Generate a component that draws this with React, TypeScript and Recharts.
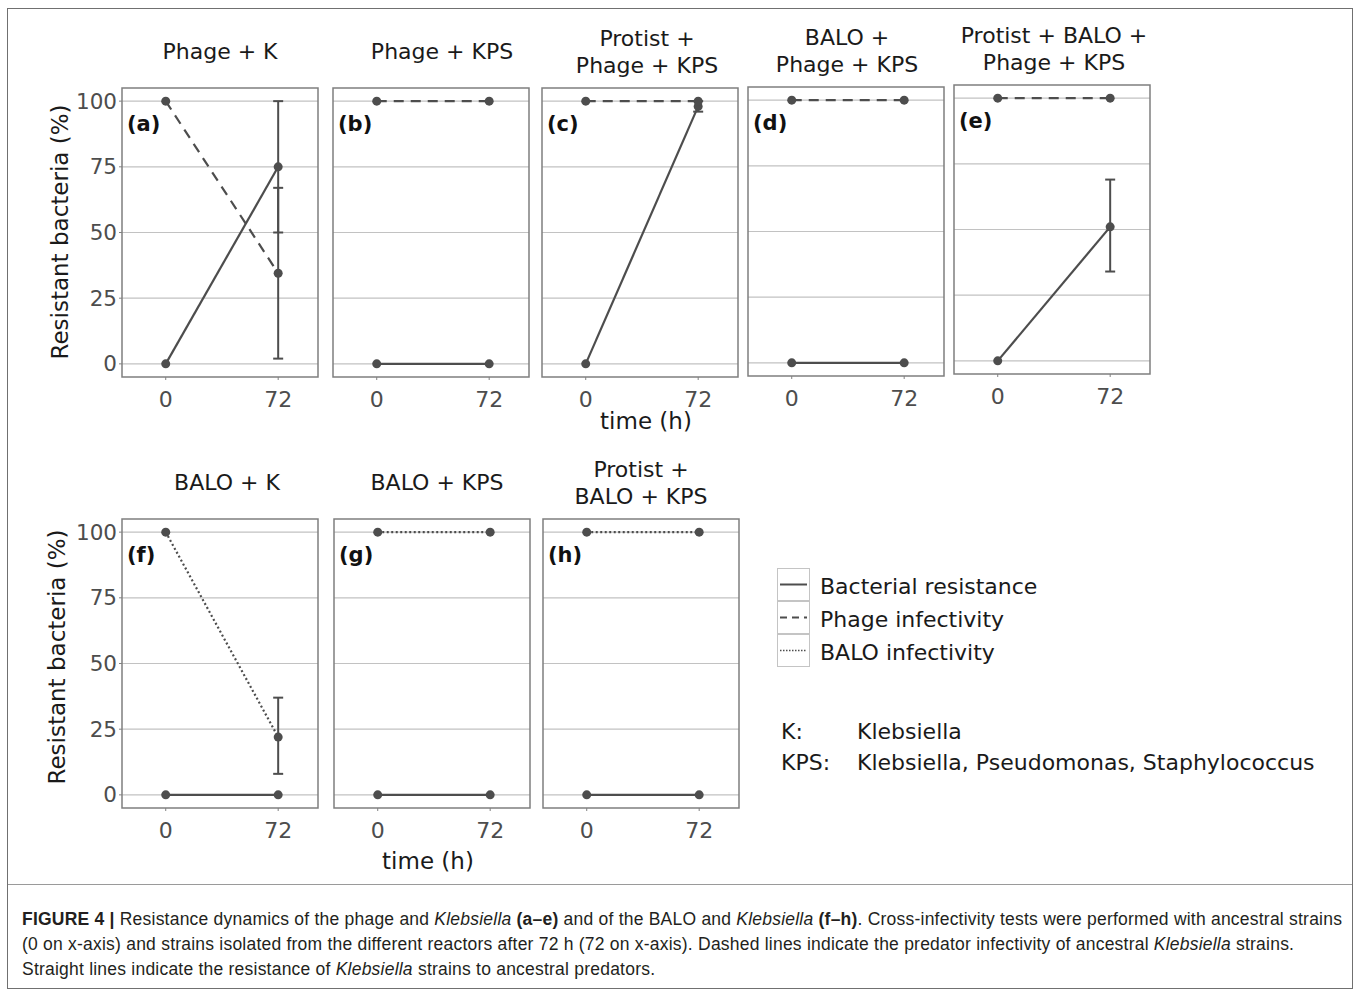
import React from 'react';
import { LineChart, Line, XAxis, YAxis, CartesianGrid, ErrorBar, ReferenceArea } from 'recharts';

// time points (h) and axis ticks
const timePoints = [0, 72];
const xTicks = [0, 72];
const yTicks = [0, 25, 50, 75, 100];

const panelLetters = ['a', 'b', 'c', 'd', 'e', 'f', 'g', 'h'];
const panelTitles = [
  ['Phage + K'],
  ['Phage + KPS'],
  ['Protist +', 'Phage + KPS'],
  ['BALO +', 'Phage + KPS'],
  ['Protist + BALO +', 'Phage + KPS'],
  ['BALO + K'],
  ['BALO + KPS'],
  ['Protist +', 'BALO + KPS'],
];
const predatorKind = ['phage', 'phage', 'phage', 'phage', 'phage', 'balo', 'balo', 'balo'];

// bacterial resistance (%) at 0 h and 72 h
const resistance = [[0, 75], [0, 0], [0, 98], [0, 0], [0, 51], [0, 0], [0, 0], [0, 0]];
// [low, high] of the error bar at 72 h
const resistanceErr72 = [[50, 100], null, [96, 100], null, [34, 69], null, null, null];

// predator infectivity (%) at 0 h and 72 h
const infectivity = [[100, 34.5], [100, 100], [100, 100], [100, 100], [100, 100], [100, 22], [100, 100], [100, 100]];
const infectivityErr72 = [[2, 67], null, null, null, null, [8, 37], null, null];

const legendLabels = ['Bacterial resistance', 'Phage infectivity', 'BALO infectivity'];
const abbrevKeys = ['K:', 'KPS:'];
const abbrevNames = ['Klebsiella', 'Klebsiella, Pseudomonas, Staphylococcus'];

const FONT = '"DejaVu Sans", sans-serif';
const INK = '#4d4d4d';
const BOX_W = 196;
const BOX_H = 287;
const X_DOMAIN: [number, number] = [-28, 97.5];
const Y_DOMAIN: [number, number] = [-5, 105];
const Y_AXIS_W = 50;

// top-left corner of each panel box on the page
const panelBoxes = [
  [122, 88], [333, 88], [542, 88], [748, 87], [954, 85],
  [122, 519], [334, 519], [543, 519],
];
// titles are not quite centred over their boxes in the original
const titleShift = [0, 11, 7, 1, 2, 7, 5, 0];

const dashFor = (kind: string) => (kind === 'phage' ? '10 7' : '2 2.5');

function errDelta(mean: number, err: number[] | null) {
  if (!err) return undefined;
  return [mean - err[0], err[1] - mean];
}

function Panel({ i }: { i: number }) {
  const [bx, by] = panelBoxes[i];
  const showY = i === 0 || i === 5;
  const yW = showY ? Y_AXIS_W : 0;
  const data = timePoints.map((t, k) => ({
    t,
    res: resistance[i][k],
    inf: infectivity[i][k],
    resErr: k === 1 ? errDelta(resistance[i][k], resistanceErr72[i]) : undefined,
    infErr: k === 1 ? errDelta(infectivity[i][k], infectivityErr72[i]) : undefined,
  }));
  const title = panelTitles[i];
  return (
    <>
      <div
        style={{
          position: 'absolute',
          left: bx - 40 + titleShift[i],
          width: BOX_W + 80,
          top: by - 36.5 - (title.length * 27) / 2,
          textAlign: 'center',
          fontSize: 22,
          lineHeight: '27px',
          color: '#1a1a1a',
          whiteSpace: 'nowrap',
        }}
      >
        {title.map((l) => (
          <div key={l}>{l}</div>
        ))}
      </div>
      <div style={{ position: 'absolute', left: bx - 2 - yW, top: by - 2 }}>
        <LineChart
          width={yW + BOX_W + 4}
          height={BOX_H + 46}
          data={data}
          margin={{ top: 2, right: 2, bottom: 0, left: 2 }}
        >
          <CartesianGrid vertical={false} stroke="#c2c2c2" strokeWidth={1.2} horizontalValues={yTicks} />
          <XAxis
            type="number"
            dataKey="t"
            domain={X_DOMAIN}
            ticks={xTicks}
            interval={0}
            allowDataOverflow
            height={42}
            axisLine={false}
            tickSize={3}
            tickMargin={11}
            tickLine={{ stroke: '#808080' }}
            tick={{ fill: INK, fontSize: 22, fontFamily: FONT }}
          />
          <YAxis
            type="number"
            domain={Y_DOMAIN}
            ticks={yTicks}
            interval={0}
            allowDataOverflow
            hide={!showY}
            width={Y_AXIS_W}
            axisLine={false}
            tickSize={3}
            tickMargin={2}
            tickLine={{ stroke: '#808080' }}
            tick={{ fill: INK, fontSize: 21.5, fontFamily: FONT }}
          />
          <ReferenceArea
            x1={X_DOMAIN[0]}
            x2={X_DOMAIN[1]}
            y1={Y_DOMAIN[0]}
            y2={Y_DOMAIN[1]}
            fill="none"
            stroke="#7f7f7f"
            strokeWidth={1.5}
            ifOverflow="visible"
          />
          <Line
            dataKey="res"
            stroke={INK}
            strokeWidth={2.2}
            dot={{ r: 4.5, fill: INK, stroke: 'none' }}
            activeDot={false}
            isAnimationActive={false}
          >
            <ErrorBar dataKey="resErr" direction="y" width={5} stroke={INK} strokeWidth={2} />
          </Line>
          <Line
            dataKey="inf"
            stroke={INK}
            strokeWidth={2.2}
            strokeDasharray={dashFor(predatorKind[i])}
            dot={{ r: 4.5, fill: INK, stroke: 'none', strokeDasharray: '' }}
            activeDot={false}
            isAnimationActive={false}
          >
            <ErrorBar dataKey="infErr" direction="y" width={5} stroke={INK} strokeWidth={2} />
          </Line>
        </LineChart>
      </div>
      <div
        style={{
          position: 'absolute',
          left: bx + 5,
          top: by + 36 - 13,
          height: 26,
          lineHeight: '26px',
          fontSize: 21,
          fontWeight: 'bold',
          color: '#111',
        }}
      >
        ({panelLetters[i]})
      </div>
    </>
  );
}

function AxisTitle({ text, cx, cy, rotate }: { text: string; cx: number; cy: number; rotate?: boolean }) {
  return (
    <div
      style={{
        position: 'absolute',
        left: cx - 200,
        top: cy - 15,
        width: 400,
        height: 30,
        lineHeight: '30px',
        textAlign: 'center',
        fontSize: 23,
        color: '#1a1a1a',
        whiteSpace: 'nowrap',
        transform: rotate ? 'rotate(-90deg)' : undefined,
      }}
    >
      {text}
    </div>
  );
}

function LegendKey({ kind }: { kind: number }) {
  const dash = kind === 0 ? undefined : kind === 1 ? '7 5' : '1.5 1.5';
  return (
    <svg width={33} height={33} style={{ display: 'block' }}>
      <rect x={0.5} y={0.5} width={32} height={32} fill="#fff" stroke="#c4c4c4" />
      <line
        x1={3}
        x2={30}
        y1={16.5}
        y2={16.5}
        stroke={INK}
        strokeWidth={kind === 2 ? 1.3 : 2}
        strokeDasharray={dash}
      />
    </svg>
  );
}

export default function App() {
  return (
    <div
      style={{
        position: 'absolute',
        left: 0,
        top: 0,
        width: 1358,
        height: 990,
        background: '#fff',
        fontFamily: FONT,
      }}
    >
      <div
        style={{
          position: 'absolute',
          left: 7,
          top: 8,
          width: 1344,
          height: 979,
          border: '1.5px solid #707070',
        }}
      />
      <div style={{ position: 'absolute', left: 8, top: 884, width: 1344, height: 0, borderTop: '1px solid #9a9a9a' }} />

      {panelLetters.map((_, i) => (
        <Panel key={i} i={i} />
      ))}

      <AxisTitle text="Resistant bacteria (%)" cx={60} cy={232} rotate />
      <AxisTitle text="Resistant bacteria (%)" cx={57} cy={657} rotate />
      <AxisTitle text="time (h)" cx={646} cy={421} />
      <AxisTitle text="time (h)" cx={428} cy={861} />

      {legendLabels.map((l, k) => (
        <div key={l}>
          <div style={{ position: 'absolute', left: 777, top: 568 + k * 33 }}>
            <LegendKey kind={k} />
          </div>
          <div
            style={{
              position: 'absolute',
              left: 820,
              top: 568 + k * 33 + 2,
              lineHeight: '33px',
              fontSize: 22,
              color: '#1a1a1a',
              whiteSpace: 'nowrap',
            }}
          >
            {l}
          </div>
        </div>
      ))}

      {abbrevKeys.map((k, j) => (
        <div key={k}>
          <div style={{ position: 'absolute', left: 781, top: 732 + j * 31 - 15, lineHeight: '30px', fontSize: 22, color: '#1a1a1a' }}>
            {k}
          </div>
          <div
            style={{
              position: 'absolute',
              left: 857,
              top: 732 + j * 31 - 15,
              lineHeight: '30px',
              fontSize: 22,
              color: '#1a1a1a',
              whiteSpace: 'nowrap',
            }}
          >
            {abbrevNames[j]}
          </div>
        </div>
      ))}

      <div
        style={{
          position: 'absolute',
          left: 22,
          top: 907,
          fontFamily: '"Liberation Sans", Arial, sans-serif',
          fontSize: 17.5,
          letterSpacing: 0.22,
          lineHeight: '25px',
          color: '#231f20',
          whiteSpace: 'nowrap',
        }}
      >
        <div>
          <b>FIGURE 4 |</b> Resistance dynamics of the phage and <i>Klebsiella</i> <b>(a–e)</b> and of the BALO and{' '}
          <i>Klebsiella</i> <b>(f–h)</b>. Cross-infectivity tests were performed with ancestral strains
        </div>
        <div>
          (0 on x-axis) and strains isolated from the different reactors after 72 h (72 on x-axis). Dashed lines indicate
          the predator infectivity of ancestral <i>Klebsiella</i> strains.
        </div>
        <div>
          Straight lines indicate the resistance of <i>Klebsiella</i> strains to ancestral predators.
        </div>
      </div>
    </div>
  );
}
